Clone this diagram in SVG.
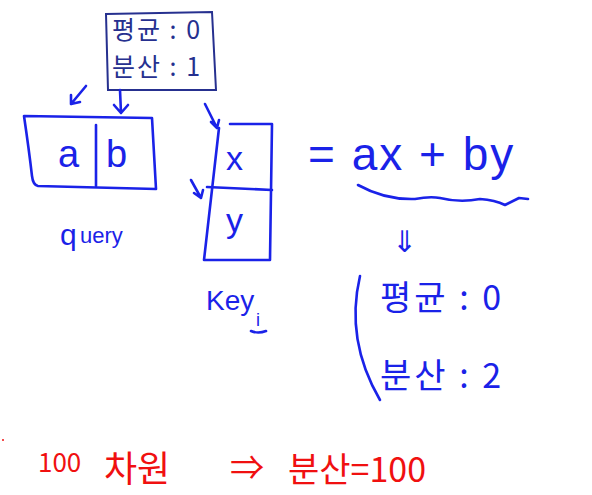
<svg xmlns="http://www.w3.org/2000/svg" width="592" height="495" viewBox="0 0 592 495">
<style>
.s{fill:none;stroke:#1a22e8;stroke-width:2.6;stroke-linecap:round;stroke-linejoin:round}
.d{fill:none;stroke:#26308f;stroke-width:2;stroke-linecap:round}
.t{font-family:"Liberation Sans","Noto Sans CJK KR",sans-serif;fill:#1a22e8}
.k{font-family:"Noto Sans CJK KR",sans-serif;fill:#1a22e8}
.r{font-family:"Noto Sans CJK KR",sans-serif;fill:#f01010}
</style>
<rect width="592" height="495" fill="#fff"/>
<g id="prior">
<path class="d" d="M106 14 L212 12 L216 90 L108 90 Z"/>
<text class="k" x="112" y="39" font-size="25" letter-spacing="2" style="fill:#26308f">평균 : 0</text>
<text class="k" x="112" y="76" font-size="25" letter-spacing="2" style="fill:#26308f">분산 : 1</text>
</g>
<g id="query">
<path class="s" d="M24 116 L152 118 L156 189 L38 186 Q33 185 32 176 Q29 150 24 116 Z"/>
<path class="s" d="M96 125 L96 186"/>
<text class="t" x="58" y="167" font-size="38">a</text>
<text class="t" x="106" y="167" font-size="38">b</text>
<text class="t" x="60" y="245" font-size="30">q</text>
<text class="t" x="80" y="243" font-size="22">uery</text>
</g>
<g id="key">
<path class="s" d="M230 124 L272 124 L270 260 L204 260 L219 128"/>
<path class="s" d="M207 187 L272 190"/>
<text class="t" x="226" y="170" font-size="34">x</text>
<text class="t" x="226" y="232" font-size="34">y</text>
<text class="t" x="206" y="310" font-size="28">Key</text>
<text class="t" x="256" y="326" font-size="18">i</text>
<path class="s" d="M251 331 Q258 334 266 331"/>
</g>
<g id="equation">
<text class="t" x="308" y="170" font-size="46" letter-spacing="2">= ax + by</text>
<path class="s" d="M358 185 Q385 200 415 199 Q430 196 440 198 Q460 203 480 199 Q495 200 505 205 Q515 200 519 198 L528 199"/>
<text class="t" x="392" y="252" font-size="30">⇓</text>
</g>
<g id="result">
<path class="s" d="M360 276 Q345 340 380 400"/>
<text class="k" x="380" y="310" font-size="34" letter-spacing="3">평균 : 0</text>
<text class="k" x="380" y="388" font-size="34" letter-spacing="3">분산 : 2</text>
</g>
<g id="connectors">
<path class="s" d="M86 86 L71 104 M71 104 L71 95 M71 104 L80 102"/>
<path class="s" d="M120 90 L121 113 M121 113 L114 105 M121 113 L128 105"/>
<path class="s" d="M205 104 L217 128 M217 128 L211 122 M217 128 L219 120"/>
<path class="s" d="M191 180 L201 198 M201 198 L194 193 M201 198 L203 190"/>
</g>
<g id="note">
<circle cx="3" cy="440" r="1" fill="#f01010"/>
<text class="r" x="38" y="472" font-size="26">100</text>
<text class="r" x="104" y="482" font-size="36">차원</text>
<text class="r" x="230" y="480" font-size="34">⇒</text>
<text class="r" x="288" y="482" font-size="34">분산=100</text>
</g>
</svg>
